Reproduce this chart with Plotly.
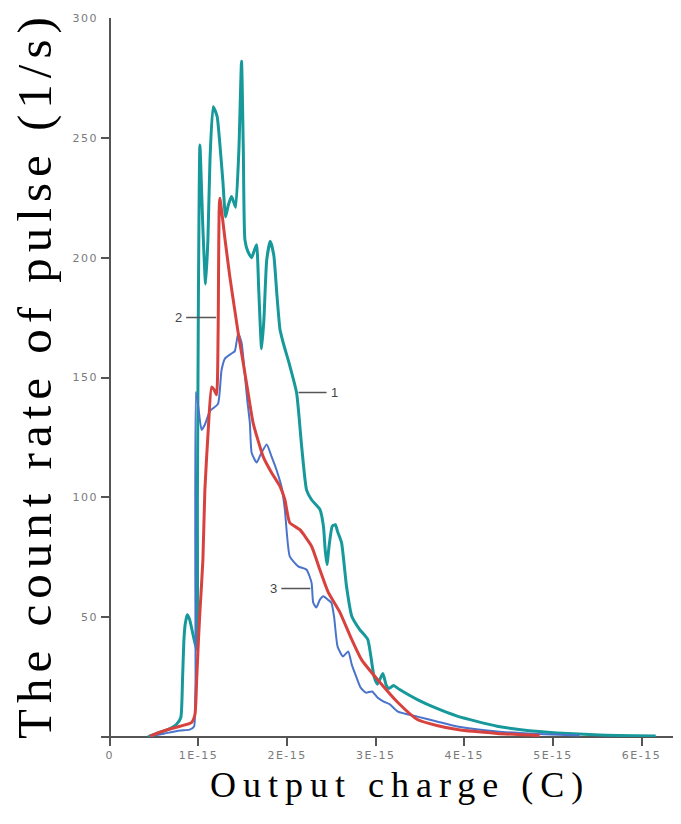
import plotly.graph_objects as go

# ---- data (charge in units of 1E-15 C, count rate in 1/s) ----
q1 = [0.43, 0.56, 0.68, 0.75, 0.80, 0.82, 0.835, 0.85, 0.873, 0.90, 0.937, 0.979, 0.988, 0.999, 1.016,
      1.05, 1.08, 1.106, 1.13, 1.166, 1.21, 1.24, 1.275, 1.306, 1.337, 1.373, 1.40, 1.42, 1.456, 1.486,
      1.506, 1.524, 1.558, 1.60, 1.63, 1.656, 1.68, 1.712, 1.738, 1.77, 1.81, 1.85, 1.885, 1.92, 1.956,
      2.03, 2.107, 2.165, 2.22, 2.276, 2.37, 2.41, 2.43, 2.45, 2.475, 2.51, 2.545, 2.57, 2.615, 2.67,
      2.73, 2.82, 2.91, 2.98, 3.02, 3.08, 3.12, 3.15, 3.20, 3.27, 3.47, 3.69, 3.92, 4.14, 4.37, 4.71,
      5.05, 5.53, 6.16]
c1 = [0, 1.9, 3.5, 5.2, 8, 24, 40, 47, 51, 49, 43, 36.5, 99, 182, 247,
      212, 189, 207, 241, 263, 259, 248, 232, 217, 222, 225.5, 223, 221, 245, 282,
      245, 207.5, 202.5, 200, 203, 205.4, 186.6, 162, 174, 199, 206.8, 201, 184.5, 170, 164.5,
      155, 143.7, 121, 103, 99, 95, 88, 78, 72, 80, 88, 88.6, 85.7, 81, 63,
      50.4, 44.8, 40.7, 25.4, 22, 26.5, 21.5, 20.2, 21.5, 19.8, 15.6, 11.9, 8.7, 6.5, 4.5, 2.7,
      1.7, 0.8, 0.4]

q2 = [0.45, 0.62, 0.79, 0.92, 0.96, 0.98, 1.0, 1.016, 1.05, 1.072, 1.11, 1.148, 1.174, 1.204, 1.222,
      1.24, 1.30, 1.354, 1.41, 1.448, 1.505, 1.56, 1.617, 1.73, 1.825, 1.92, 1.975, 2.03, 2.144,
      2.276, 2.37, 2.465, 2.596, 2.71, 2.84, 3.02, 3.25, 3.47, 3.69, 3.92, 4.37, 4.85]
c2 = [0.4, 2.7, 4.5, 6, 9.4, 24, 40.7, 52, 74, 103, 128, 146, 145, 142.8, 170,
      224.8, 207.5, 192, 178, 168.6, 156, 143.6, 131, 117, 110.3, 104.6, 99, 89.4, 86.5,
      79.6, 69.8, 60.3, 52, 42.3, 32.3, 24, 14.4, 7.3, 4.8, 3.1, 1.5, 0.6]

q3 = [0.47, 0.62, 0.79, 0.90, 0.95, 0.963, 0.967, 0.97, 0.997, 1.035, 1.072, 1.13, 1.22, 1.26, 1.30,
      1.373, 1.41, 1.448, 1.486, 1.524, 1.55, 1.58, 1.60, 1.656, 1.70, 1.77, 1.825, 1.88, 1.94, 1.975,
      2.03, 2.125, 2.22, 2.276, 2.295, 2.33, 2.37, 2.41, 2.46, 2.50, 2.53, 2.57, 2.63, 2.69, 2.73,
      2.78, 2.83, 2.89, 2.96, 3.02, 3.09, 3.16, 3.25, 3.47, 3.69, 3.92, 4.37, 4.82, 5.3]
c3 = [0.4, 1.5, 2.7, 3.1, 4.4, 15.6, 24, 144, 138, 128.2, 130.3, 136, 139, 153, 158,
      160, 161, 168.5, 164.6, 151, 140.7, 131, 118.6, 114.5, 117.8, 122, 117, 111.5, 104, 94.8,
      75.4, 71.2, 69.8, 64.4, 56, 54, 57.3, 58.7, 57.3, 56, 50.2, 37.7, 33.6, 35.7, 30.2,
      25.2, 20.6, 18.5, 19, 16.5, 14.8, 13.6, 10.6, 8.5, 6.5, 4.4, 2.3, 1.3, 0.6]

x_tickvals = [0, 1, 2, 3, 4, 5, 6]
x_ticktext = ["0", "1E-15", "2E-15", "3E-15", "4E-15", "5E-15", "6E-15"]
y_tickvals = [50, 100, 150, 200, 250, 300]
y_ticktext = ["50", "100", "150", "200", "250", "300"]

# curve labels: (text, charge, count, pixel offset of the label)
labels = [("1", 2.107, 143.7, 38), ("2", 1.222, 175, -40), ("3", 2.285, 62, -39)]

E = 1e-15
teal, red, blue = "#17999b", "#d8423e", "#4a73cb"

fig = go.Figure()
fig.add_trace(go.Scatter(x=[v * E for v in q1], y=c1, mode="lines",
                         line=dict(color=teal, width=3, shape="spline", smoothing=0.5)))
fig.add_trace(go.Scatter(x=[v * E for v in q3], y=c3, mode="lines",
                         line=dict(color=blue, width=2, shape="spline", smoothing=0.5)))
fig.add_trace(go.Scatter(x=[v * E for v in q2], y=c2, mode="lines",
                         line=dict(color=red, width=3, shape="spline", smoothing=0.5)))

sp = lambda s, ls: f"<span style='letter-spacing:{ls}px'>{s}</span>"

tickfont = dict(family="DejaVu Sans", size=11, color="#7a7a7a")
fig.update_xaxes(range=[-0.1 * E, 6.4 * E], tickvals=[v * E for v in x_tickvals],
                 ticktext=[sp(t, 1.5) for t in x_ticktext], ticks="outside", ticklen=8,
                 tickwidth=1.5, tickcolor="#555", showgrid=False, showline=False,
                 zeroline=True, zerolinecolor="#555", zerolinewidth=2, tickfont=tickfont)
fig.update_yaxes(range=[0, 300], tickvals=y_tickvals, ticktext=[sp(t, 1.5) for t in y_ticktext],
                 ticks="inside", ticklen=9, tickwidth=1.5, tickcolor="#555", showgrid=False,
                 showline=False, zeroline=True, zerolinecolor="#555", zerolinewidth=2,
                 tickfont=tickfont, ticklabelstandoff=2)

for txt, qx, cy, off in labels:
    fig.add_annotation(x=qx * E, y=cy, text=txt, showarrow=True, arrowhead=0, arrowwidth=1.5,
                       arrowcolor="#555", ax=off, ay=0, standoff=2, startstandoff=3,
                       font=dict(family="Liberation Sans", size=13, color="#444"))

fig.add_annotation(xref="paper", yref="paper", x=-0.1146, y=0.5035, showarrow=False,
                   xanchor="center", yanchor="middle",
                   text=sp("The count rate of pulse (1/s)", 6), textangle=-90,
                   font=dict(family="Liberation Serif", size=49, color="#000"))
fig.add_annotation(xref="paper", yref="paper", x=0.519, y=-0.0668, showarrow=False,
                   xanchor="center", yanchor="middle",
                   text=sp("Output charge (C)", 7),
                   font=dict(family="Liberation Serif", size=36, color="#000"))

# page body adds an 8px offset, so the figure is 8px smaller and margins are shifted
fig.update_layout(width=673, height=816, margin=dict(l=93, r=4, t=10, b=87),
                  plot_bgcolor="white", paper_bgcolor="white", showlegend=False)
fig.write_html("out.html")
